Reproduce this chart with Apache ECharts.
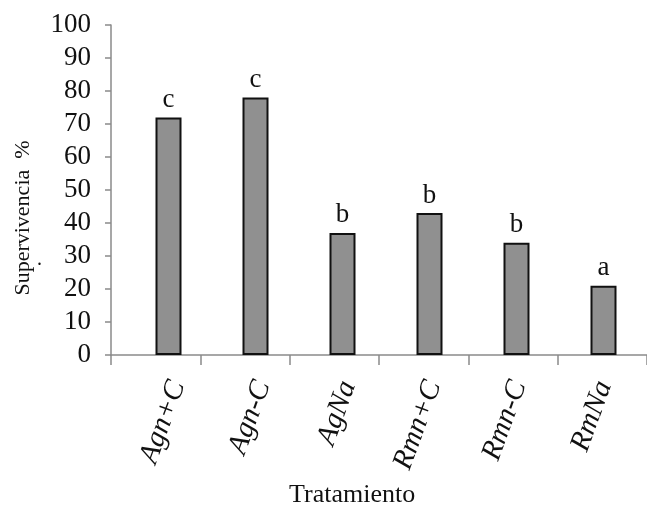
<!DOCTYPE html>
<html>
<head>
<meta charset="utf-8">
<script src="https://cdn.jsdelivr.net/npm/echarts@6/dist/echarts.min.js"></script>
<style>html,body{margin:0;padding:0;background:#fff;}#c{width:647px;height:507px;}</style>
</head>
<body>
<div id="c"></div>
<script>
const categories = ['Agn+C', 'Agn-C', 'AgNa', 'Rmn+C', 'Rmn-C', 'RmNa'];
const survival = [72, 78, 37, 43, 34, 21];
const letters = ['c', 'c', 'b', 'b', 'b', 'a'];
const yTicks = [0, 10, 20, 30, 40, 50, 60, 70, 80, 90, 100];

const serif = '"Liberation Serif", "Times New Roman", serif';
const chart = echarts.init(document.getElementById('c'), null, {renderer: 'canvas'});
chart.setOption({
  animation: false,
  backgroundColor: '#fff',
  grid: [
    {left: 111, top: 25, width: 538, height: 330},
    {left: 125, top: 25, width: 538, height: 330},
    {left: 135, top: 25, width: 538, height: 330}
  ],
  xAxis: [
    {
      type: 'category', gridIndex: 0, data: categories,
      axisLine: {lineStyle: {color: '#8a8a8a', width: 1.5}},
      axisTick: {show: true, length: 10, lineStyle: {color: '#8a8a8a', width: 1.5}},
      axisLabel: {show: false}
    },
    {
      type: 'category', gridIndex: 1, data: categories,
      axisLine: {show: false}, axisTick: {show: false}, axisLabel: {show: false}
    },
    {
      type: 'category', gridIndex: 2, data: categories,
      axisLine: {show: false}, axisTick: {show: false},
      axisLabel: {
        rotate: 70, margin: 27, interval: 0,
        fontFamily: serif, fontStyle: 'italic', fontSize: 29, color: '#111'
      }
    }
  ],
  yAxis: [
    {
      type: 'value', gridIndex: 0, min: yTicks[0], max: yTicks[yTicks.length - 1], interval: 10,
      axisLine: {show: true, lineStyle: {color: '#8a8a8a', width: 1.5}},
      axisTick: {show: true, length: 6, lineStyle: {color: '#8a8a8a', width: 1.5}},
      splitLine: {show: false},
      axisLabel: {margin: 20, fontFamily: serif, fontSize: 27, color: '#111'}
    },
    {
      type: 'value', gridIndex: 1, min: yTicks[0], max: yTicks[yTicks.length - 1], interval: 10,
      show: false, splitLine: {show: false}
    },
    {
      type: 'value', gridIndex: 2, min: yTicks[0], max: yTicks[yTicks.length - 1], interval: 10,
      show: false, splitLine: {show: false}
    }
  ],
  graphic: [
    {type: 'text', left: 289, top: 482, style: {text: 'Tratamiento', font: '26px ' + serif, fill: '#111'}},
    {type: 'text', x: 23, y: 218, rotation: Math.PI / 2,
     style: {text: 'Supervivencia  %', font: '22px ' + serif, fill: '#111', align: 'center', verticalAlign: 'middle', textAlign: 'center', textVerticalAlign: 'middle'}},
    {type: 'text', left: 37, top: 250, style: {text: '.', font: '20px ' + serif, fill: '#111'}}
  ],
  series: [{
    type: 'bar', xAxisIndex: 1, yAxisIndex: 1,
    data: survival, barWidth: 26,
    itemStyle: {color: '#909090', borderColor: '#111', borderWidth: 2},
    label: {
      show: true, position: 'top', distance: 4,
      formatter: p => letters[p.dataIndex],
      fontFamily: serif, fontSize: 27, color: '#111'
    }
  }]
});
</script>
</body>
</html>
